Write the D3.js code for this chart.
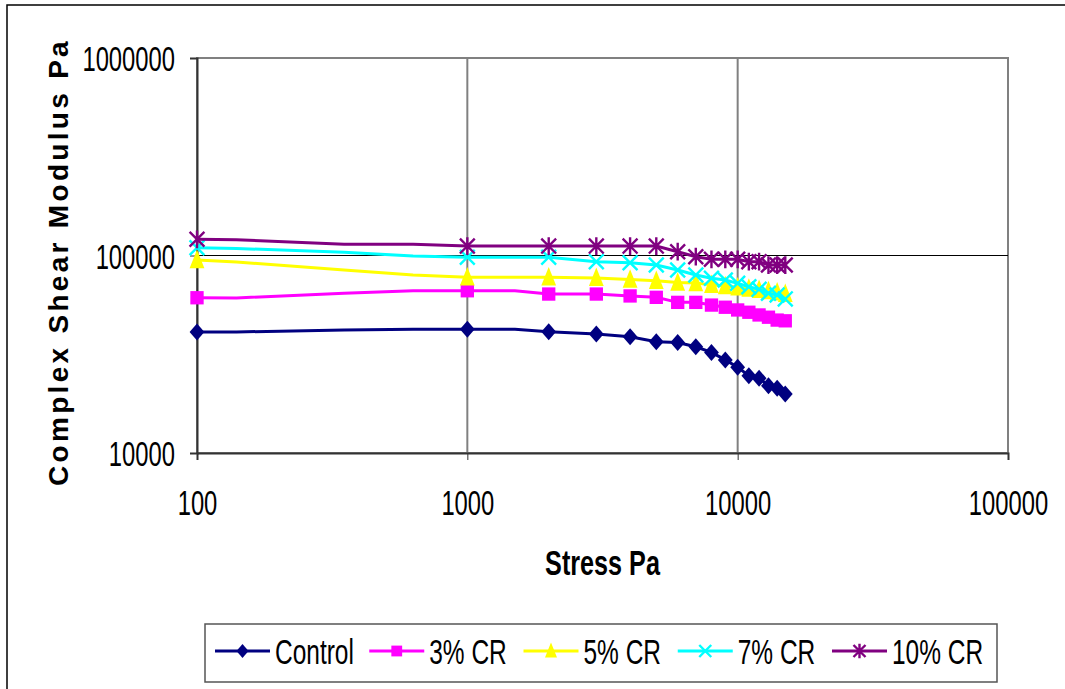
<!DOCTYPE html>
<html lang="en">
<head>
    <meta charset="UTF-8">
    <title>Complex Shear Modulus vs Stress</title>
    <style>
        body { margin: 0; background: #fff; }
        svg text { font-family: "Liberation Sans", Arial, sans-serif; fill: #000; }
    </style>
    <script src="https://d3js.org/d3.v7.min.js"></script>
</head>
<body>
    <div id="chart"></div>
    <script>
        // stress values (Pa); some points only bend the line and carry no marker
        const stress = [100, 140, 350, 630, 1000, 1500, 2000, 3000, 4000, 5000, 6000, 7000,
                        8000, 9000, 10000, 11000, 12000, 13000, 14000, 15000];
        const unmarked = [140, 350, 630, 1500];

        const control = [41000, 41000, 42000, 42300, 42300, 42300, 41100, 40000, 38800, 36600, 36300,
                         34500, 32300, 29600, 27200, 24600, 23900, 21900, 21300, 19900];
        const cr3 = [61100, 61000, 64400, 66300, 66300, 66300, 63800, 63800, 62400, 61400, 57900,
                     57900, 56100, 54700, 53000, 51600, 50000, 48700, 47100, 46700];
        const cr5 = [94900, 92700, 84500, 79700, 77600, 77600, 77500, 77000, 75500, 74500, 73000,
                     72500, 71000, 70000, 69000, 68000, 67000, 66000, 65000, 64000];
        const cr7 = [109500, 108500, 103800, 99400, 98000, 98000, 98000, 93100, 91900, 89500, 84500,
                     79700, 76700, 75200, 72300, 69500, 67400, 64400, 63100, 60300];
        const cr10 = [120800, 120200, 114000, 114000, 111600, 111600, 111600, 111600, 111600, 111600, 104500,
                      98600, 95700, 95700, 95700, 93100, 93100, 89500, 89500, 89500];

        const seriesNames = ["Control", "3% CR", "5% CR", "7% CR", "10% CR"];
        const xTicks = [100, 1000, 10000, 100000];
        const yTicks = [10000, 100000, 1000000];

        const colors = ["#000080", "#FF00FF", "#FFFF00", "#00FFFF", "#800080"];
        const shapes = ["diamond", "square", "triangle", "cross", "star"];

        const series = [control, cr3, cr5, cr7, cr10].map((vals, i) => ({
            name: seriesNames[i],
            color: colors[i],
            shape: shapes[i],
            points: stress.map((s, j) => ({ x: s, y: vals[j] }))
        }));

        const width = 1065, height = 689;
        const plot = { left: 197, right: 1008, top: 58, bottom: 453 };

        const svg = d3.select("#chart").append("svg")
            .attr("width", width)
            .attr("height", height);

        // outer chart frame
        svg.append("rect")
            .attr("x", 7).attr("y", 5)
            .attr("width", 1070).attr("height", 700)
            .attr("fill", "none")
            .attr("stroke", "#000")
            .attr("stroke-width", 1.5);

        const x = d3.scaleLog().domain([100, 100000]).range([plot.left, plot.right]);
        const y = d3.scaleLog().domain([10000, 1000000]).range([plot.bottom, plot.top]);

        // plot area frame
        svg.append("rect")
            .attr("x", plot.left).attr("y", plot.top)
            .attr("width", plot.right - plot.left)
            .attr("height", plot.bottom - plot.top)
            .attr("fill", "none")
            .attr("stroke", "#808080")
            .attr("stroke-width", 2);

        // gridlines
        svg.append("g").selectAll("line")
            .data(xTicks.slice(1, -1))
            .enter().append("line")
            .attr("x1", d => x(d)).attr("x2", d => x(d))
            .attr("y1", plot.top).attr("y2", plot.bottom)
            .attr("stroke", "#808080").attr("stroke-width", 2);

        svg.append("g").selectAll("line")
            .data(yTicks.slice(1, -1))
            .enter().append("line")
            .attr("x1", plot.left).attr("x2", plot.right)
            .attr("y1", d => y(d)).attr("y2", d => y(d))
            .attr("stroke", "#000").attr("stroke-width", 1);

        // axes
        const xAxis = svg.append("g")
            .attr("transform", `translate(0,${plot.bottom})`)
            .call(d3.axisBottom(x).tickValues(xTicks).tickFormat(d3.format("d")).tickSize(7));
        xAxis.select(".domain").attr("stroke", "#333").attr("stroke-width", 2);
        xAxis.selectAll(".tick line").attr("stroke", "#333");
        xAxis.selectAll(".tick text")
            .attr("y", 62).attr("dy", 0)
            .attr("font-size", 35)
            .attr("transform", "scale(0.68,1)");

        const yAxis = svg.append("g")
            .attr("transform", `translate(${plot.left},0)`)
            .call(d3.axisLeft(y).tickValues(yTicks).tickFormat(d3.format("d")).tickSize(7));
        yAxis.select(".domain").attr("stroke", "#333").attr("stroke-width", 2);
        yAxis.selectAll(".tick line").attr("stroke", "#333");
        yAxis.selectAll(".tick text")
            .attr("x", -22 / 0.68).attr("dy", "0.36em")
            .attr("font-size", 35)
            .attr("transform", "scale(0.68,1)");

        // axis titles
        svg.append("text")
            .attr("transform", `translate(${(plot.left + plot.right) / 2},575) scale(0.7,1)`)
            .attr("text-anchor", "middle")
            .attr("font-size", 36)
            .attr("font-weight", "bold")
            .text("Stress Pa");

        svg.append("text")
            .attr("transform", "translate(68,262) rotate(-90)")
            .attr("text-anchor", "middle")
            .attr("font-size", 28)
            .attr("font-weight", "bold")
            .attr("letter-spacing", 3.3)
            .text("Complex Shear Modulus Pa");

        function drawMarker(g, shape, color, s) {
            if (shape === "diamond") {
                g.append("path")
                    .attr("d", `M0,${-s * 1.15}L${s},0L0,${s * 1.15}L${-s},0Z`)
                    .attr("fill", color);
            } else if (shape === "square") {
                g.append("rect")
                    .attr("x", -s * 0.9).attr("y", -s * 0.9)
                    .attr("width", s * 1.8).attr("height", s * 1.8)
                    .attr("fill", color);
            } else if (shape === "triangle") {
                g.append("path")
                    .attr("d", `M0,${-s * 1.4}L${s},${s * 1.1}L${-s},${s * 1.1}Z`)
                    .attr("fill", color);
            } else if (shape === "cross") {
                g.append("path")
                    .attr("d", `M${-s},${-s}L${s},${s}M${-s},${s}L${s},${-s}`)
                    .attr("stroke", color).attr("stroke-width", 2.4);
            } else {
                g.append("path")
                    .attr("d", `M${-s},${-s}L${s},${s}M${-s},${s}L${s},${-s}M0,${-s * 1.2}L0,${s * 1.2}`)
                    .attr("stroke", color).attr("stroke-width", 2.4);
            }
        }

        const line = d3.line().x(d => x(d.x)).y(d => y(d.y));

        series.forEach(s => {
            const g = svg.append("g");
            g.append("path")
                .datum(s.points)
                .attr("d", line)
                .attr("fill", "none")
                .attr("stroke", s.color)
                .attr("stroke-width", 3);
            s.points.filter(p => !unmarked.includes(p.x)).forEach(p => {
                const m = g.append("g").attr("transform", `translate(${x(p.x)},${y(p.y)})`);
                drawMarker(m, s.shape, s.color, 7.4);
            });
        });

        // legend
        const legend = svg.append("g");
        legend.append("rect")
            .attr("x", 205).attr("y", 624)
            .attr("width", 792).attr("height", 58)
            .attr("fill", "#fff")
            .attr("stroke", "#555")
            .attr("stroke-width", 1.5);

        const legendX = d3.scalePoint().domain(seriesNames).range([215, 832]);
        series.forEach(s => {
            const g = legend.append("g").attr("transform", `translate(${legendX(s.name)},651)`);
            g.append("line")
                .attr("x1", 0).attr("x2", 55)
                .attr("stroke", s.color).attr("stroke-width", 3);
            const m = g.append("g").attr("transform", "translate(27.5,0)");
            drawMarker(m, s.shape, s.color, 6);
            g.append("text")
                .attr("transform", "translate(60,0) scale(0.7,1)")
                .attr("dy", "0.36em")
                .attr("font-size", 35)
                .text(s.name);
        });
    </script>
</body>
</html>
